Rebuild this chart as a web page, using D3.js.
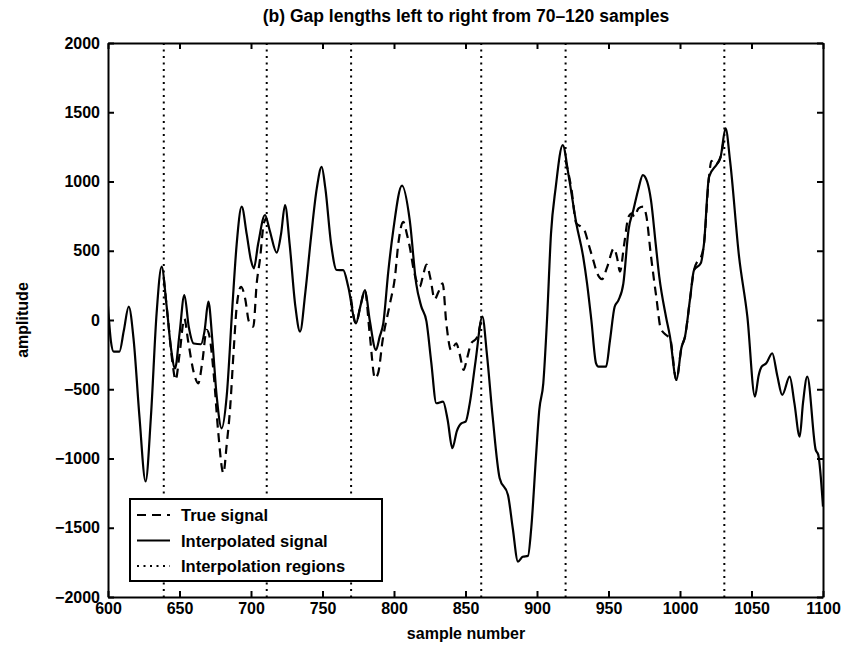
<!DOCTYPE html>
<html>
<head>
<meta charset="utf-8">
<script src="https://cdn.jsdelivr.net/npm/d3@7"></script>
<style>
body { margin: 0; background: #fff; }
svg text { font-family: "Liberation Sans", Arial, sans-serif; font-weight: bold; fill: #000; }
</style>
</head>
<body>
<div id="chart-area"></div>
<script>

// interpolated signal (solid)
let interpSamples = [600, 602, 604, 608, 611, 614.5, 618, 622, 626.3, 630, 634, 637.5, 641, 644, 646.9, 650, 653.4, 656.5, 660, 665, 667.5, 670.2, 673, 676, 679.5, 683, 687, 690, 693.5, 697, 700, 702, 705, 709.8, 713, 718, 721, 723.8, 727, 731, 734.3, 738, 742, 746, 749.4, 752, 756, 759.9, 764.5, 768, 773.4, 776.5, 779.7, 783, 787.4, 790, 792.5, 796, 799.5, 805.6, 811, 815.5, 819, 822.7, 826, 829.6, 834.3, 837.5, 840.8, 844, 847.1, 850.1, 853, 857, 861.8, 865, 869, 873.9, 879.7, 883, 886.7, 890, 893.7, 896, 899.3, 901.6, 904.4, 907, 909.8, 913, 918, 922, 927.5, 932.3, 935, 938, 941.3, 943, 948.3, 951, 954.3, 957, 960.4, 964, 967.4, 971, 974, 977, 979.7, 983, 985.5, 990.2, 993, 997.5, 1001, 1003.5, 1007, 1009.8, 1014.5, 1016.8, 1020.3, 1026.1, 1028.4, 1031.9, 1035, 1041.3, 1047.1, 1052.4, 1055, 1057.1, 1060.3, 1064.5, 1068, 1071.5, 1076.7, 1080, 1083.7, 1086, 1089, 1094.9, 1096.7, 1100];
let interpValues = [100, -150, -228, -228, -80, 96, -150, -700, -1166, -700, 50, 385, 100, -200, -349, -100, 180, -50, -170, -175, -80, 132, -150, -550, -782, -550, 100, 550, 818, 620, 430, 373, 550, 758, 650, 486, 620, 830, 550, 100, -84, 200, 600, 950, 1106, 950, 550, 361, 360, 240, -24, 100, 216, 0, -216, -120, -24, 350, 649, 970, 721, 265, 100, -10, -300, -601, -589, -720, -926, -800, -746, -734, -600, -300, 24, -250, -700, -1142, -1263, -1500, -1744, -1710, -1703, -1500, -986, -649, -457, 0, 625, 950, 1263, 1050, 697, 457, 265, 0, -313, -337, -337, -150, 96, 144, 265, 650, 794, 950, 1046, 1000, 866, 550, 313, 24, -120, -433, -200, -120, 150, 361, 409, 553, 1034, 1130, 1178, 1383, 1150, 457, 24, -553, -400, -337, -313, -240, -400, -541, -409, -600, -842, -600, -409, -938, -974, -1347];

// true signal (dashed), only where it departs from the interpolation
let gap1Samples = [639, 642, 645, 647.3, 650, 653.4, 656, 660, 663.1, 666, 669, 671, 674, 677, 680.7, 683, 685.3, 688, 690, 693, 696, 698.5, 701.6, 704, 706.3, 709, 711];
let gap1Values = [300, 0, -300, -433, -250, 10, -150, -380, -457, -300, -72, -120, -400, -800, -1106, -900, -650, -200, 96, 240, 150, -10, -48, 265, 440, 700, 740];

let gap2Samples = [770, 773.4, 776.5, 779.7, 783, 786.7, 789, 792, 797.2, 800.7, 803, 806.5, 809, 811, 814, 818, 820.5, 822.7, 825.5, 828.4, 831, 834, 836.6, 840, 843.5, 846, 848.7, 851, 854, 857.8, 861];
let gap2Values = [150, -24, 100, 210, -100, -421, -380, -150, 120, 313, 550, 709, 620, 529, 350, 240, 330, 400, 300, 150, 200, 265, -24, -220, -168, -250, -361, -280, -168, -130, 0];

let gap3Samples = [920, 924, 927.5, 930.8, 933.5, 936, 939.4, 942, 945.5, 949, 953.8, 956, 958, 961, 964, 966.5, 968, 971, 974.2, 976.5, 979.5, 983.5, 986.5, 990.5, 993, 997.5, 1001, 1003.5, 1007, 1009.8, 1012, 1014, 1016.8, 1020, 1022, 1024, 1026.1, 1028.4, 1031];
let gap3Values = [1150, 950, 697, 673, 640, 550, 430, 340, 295, 380, 517, 450, 350, 550, 745, 770, 745, 806, 818, 750, 480, 160, -60, -110, -130, -433, -200, -120, 150, 361, 420, 440, 553, 1000, 1150, 1120, 1130, 1178, 1330];

// dotted boundaries of the interpolation regions
let regionBounds = [639, 711, 770, 861, 920, 1031];

let xTicks = [600, 650, 700, 750, 800, 850, 900, 950, 1000, 1050, 1100];
let yTicks = [-2000, -1500, -1000, -500, 0, 500, 1000, 1500, 2000];

let legendLabels = ["True signal", "Interpolated signal", "Interpolation regions"];

let margin = {top: 43, right: 31, bottom: 50, left: 108};
let width = 854 - margin.left - margin.right;
let height = 647 - margin.top - margin.bottom;

let root = d3.select("#chart-area").append("svg")
	.attr("width", 854)
	.attr("height", 647);

let svg = root.append("g")
	.attr("transform", "translate(" + margin.left + "," + margin.top + ")");

let x = d3.scaleLinear().domain([600, 1100]).range([0, width]);
let y = d3.scaleLinear().domain([-2000, 2000]).range([height, 0]);

let line = d3.line()
	.curve(d3.curveMonotoneX)
	.x(d => x(d[0]))
	.y(d => y(d[1]));

let zip = (a, b) => a.map((s, i) => [s, b[i]]);

// clip so nothing spills outside the box
svg.append("clipPath").attr("id", "plot-clip")
	.append("rect").attr("width", width).attr("height", height);

let plot = svg.append("g").attr("clip-path", "url(#plot-clip)");

// dotted region lines
plot.selectAll(".region")
	.data(regionBounds)
	.enter().append("line")
	.attr("class", "region")
	.attr("x1", d => x(d)).attr("x2", d => x(d))
	.attr("y1", 0).attr("y2", height)
	.attr("stroke", "#000")
	.attr("stroke-width", 2)
	.attr("stroke-dasharray", "2,4.5");

// true signal, dashed
[zip(gap1Samples, gap1Values), zip(gap2Samples, gap2Values), zip(gap3Samples, gap3Values)].forEach(seg => {
	plot.append("path").datum(seg)
		.attr("d", line)
		.attr("fill", "none")
		.attr("stroke", "#000")
		.attr("stroke-width", 2.2)
		.attr("stroke-dasharray", "9,6");
});

// interpolated signal, solid
plot.append("path").datum(zip(interpSamples, interpValues))
	.attr("d", line)
	.attr("fill", "none")
	.attr("stroke", "#000")
	.attr("stroke-width", 2.2);

// axes, ticks pointing inwards like matlab
let fmt = d3.format("d");
let xAxis = d3.axisBottom(x).tickValues(xTicks).tickFormat(fmt).tickSizeInner(-6).tickSizeOuter(0).tickPadding(6);
let yAxis = d3.axisLeft(y).tickValues(yTicks).tickFormat(fmt).tickSizeInner(-6).tickSizeOuter(0).tickPadding(8);
let xTop = d3.axisTop(x).tickValues(xTicks).tickSizeInner(-6).tickSizeOuter(0).tickFormat("");
let yRight = d3.axisRight(y).tickValues(yTicks).tickSizeInner(-6).tickSizeOuter(0).tickFormat("");

let gx = svg.append("g").attr("transform", "translate(0," + height + ")").call(xAxis);
let gy = svg.append("g").call(yAxis);
let gt = svg.append("g").call(xTop);
let gr = svg.append("g").attr("transform", "translate(" + width + ",0)").call(yRight);

[gx, gy, gt, gr].forEach(g => {
	g.selectAll("path, line").attr("stroke", "#000").attr("stroke-width", 2);
	g.selectAll("text").style("font-size", "16px").style("font-family", "'Liberation Sans', Arial, sans-serif").style("font-weight", "bold").attr("fill", "#000");
});

// title and axis labels
root.append("text")
	.attr("x", 466).attr("y", 22)
	.attr("text-anchor", "middle")
	.style("font-size", "17.5px")
	.text("(b) Gap lengths left to right from 70\u2013120 samples");

root.append("text")
	.attr("x", 466).attr("y", 639)
	.attr("text-anchor", "middle")
	.style("font-size", "16px")
	.text("sample number");

root.append("text")
	.attr("transform", "translate(28,320) rotate(-90)")
	.attr("text-anchor", "middle")
	.style("font-size", "16px")
	.text("amplitude");

// legend
let legend = svg.append("g").attr("transform", "translate(" + (130 - margin.left) + "," + (499 - margin.top) + ")");
legend.append("rect")
	.attr("width", 252).attr("height", 82)
	.attr("fill", "#fff")
	.attr("stroke", "#000")
	.attr("stroke-width", 2);

let legendDash = ["9,6", null, "2,4.5"];
legendLabels.forEach((lab, i) => {
	let ly = 16 + i * 25.5;
	legend.append("line")
		.attr("x1", 7).attr("x2", 40)
		.attr("y1", ly).attr("y2", ly)
		.attr("stroke", "#000")
		.attr("stroke-width", 2)
		.attr("stroke-dasharray", legendDash[i]);
	legend.append("text")
		.attr("x", 51).attr("y", ly + 6)
		.style("font-size", "16.5px")
		.text(lab);
});

</script>
</body>
</html>
